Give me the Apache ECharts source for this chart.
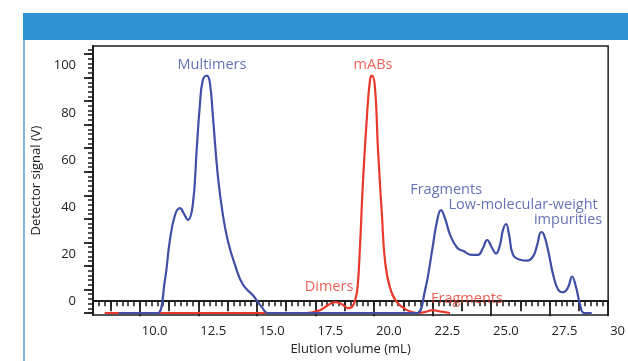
<!DOCTYPE html>
<html>
<head>
<meta charset="utf-8">
<script src="https://cdn.jsdelivr.net/npm/echarts@6/dist/echarts.min.js"></script>
<style>html,body{margin:0;padding:0;background:#fff}#c{width:628px;height:361px}</style>
</head>
<body>
<div id="c"></div>
<script>
// Blue trace (multimers, fragments, low-molecular-weight impurities)
const blueVolume = [9.1,10.5,10.77,11.07,11.28,11.5,11.71,11.92,12.05,12.26,12.43,12.56,12.69,12.86,12.99,13.12,13.33,13.55,13.76,14.06,14.40,14.83,15.21,15.47,18,21.5,21.84,22.18,22.48,22.69,22.86,23.03,23.25,23.55,23.80,24.19,24.44,24.66,24.83,25.04,25.21,25.38,25.51,25.64,25.77,25.94,26.24,26.54,26.79,26.97,27.14,27.26,27.44,27.65,27.86,28.08,28.29,28.46,28.63,28.80,28.97,29.3];
const blueSignal = [-5,-5,-5,8.8,25.6,36.5,39.5,36.5,34.5,40.8,64.7,82.8,94,95.8,92.9,78.6,53.4,36.5,25.6,15.5,7.1,2.5,-2.5,-5,-5,-5,-5,4.6,21.4,34,38.7,35.3,28.2,22.7,21.4,19.7,19.7,22.7,26,22.7,20.2,23.9,30.3,32.8,28.2,19.7,17.6,17.2,18.9,23.9,29.4,28.2,21.4,11.3,5,3.8,5.9,10.5,5.9,-1.3,-5,-5];
// Red trace (dimers, mABs, fragments)
const redVolume = [8.5,16.5,17.14,17.69,18.03,18.33,18.63,18.89,19.06,19.2,19.3,19.4,19.53,19.70,19.83,19.91,20.04,20.17,20.34,20.47,20.68,20.98,21.41,21.84,22.2,22.5,22.8,23.25];
const redSignal = [-5,-5,-5,-3.8,-1.7,-0.4,-1.3,-2.9,-2.4,0.5,6,22.7,50.8,78.6,94,95.8,91.2,64.7,36.5,17.2,5.9,-0.4,-3.8,-5,-4.5,-3.8,-4.3,-5];
// Annotations
const annotationText = ['Multimers','mABs','Dimers','Fragments','Fragments','Low-molecular-weight','impurities'];
const annotationVolume = [13.08,19.96,18.08,23.97,23.08,26.37,28.29];
const annotationSignal = [100.2,100.2,5.9,1.0,47.5,40.8,34.5];
const annotationTrace = ['blue','red','red','red','blue','blue','blue'];
// Axis ticks/labels
const xLabelValues = [10,12.5,15,17.5,20,22.5,25,27.5,30];
const xMediumTicks = [8.75,11.25,13.75,16.25,18.75,21.25,23.75,26.25,28.75];
const xSmallTicks = []; for (let v = 8; v <= 30.001; v += 0.25) xSmallTicks.push(+v.toFixed(2));
const yLabelValues = [0,20,40,60,80,100];
const yMajorTicks = [-5,5,15,25,35,45,55,65,75,85,95,105];
const yMinorTicks = []; for (let v = -5; v <= 107; v += 2) yMinorTicks.push(v);

const BLUE = '#3f4fa6', RED = '#e8392d', INK = '#1e1e1e';
const FONT = 'Open Sans';
const X_MIN = 8, X_MAX = 30, Y_MIN = -5.9, Y_MAX = 108.4;

function xAx(extra) {
  return Object.assign({
    type: 'value', min: X_MIN, max: X_MAX, position: 'bottom', gridIndex: 0,
    splitLine: {show: false},
    axisLine: {show: false},
    axisLabel: {show: false},
    axisTick: {show: false}
  }, extra);
}
function yAx(extra) {
  return Object.assign({
    type: 'value', min: Y_MIN, max: Y_MAX, position: 'left', gridIndex: 0,
    splitLine: {show: false},
    axisLine: {show: false},
    axisLabel: {show: false},
    axisTick: {show: false}
  }, extra);
}

const chart = echarts.init(document.getElementById('c'));
chart.setOption({
  animation: false,
  backgroundColor: '#fff',
  graphic: [
    {type: 'rect', shape: {x: 23, y: 13, width: 605, height: 27}, style: {fill: '#2b91cf'}},
    {type: 'rect', shape: {x: 23, y: 40, width: 2, height: 321}, style: {fill: '#7dbbe6'}}
  ],
  grid: {left: 93, top: 46, right: 19, bottom: 43, show: true, borderColor: INK, borderWidth: 1.5},
  xAxis: [
    xAx({
      name: 'Elution volume (mL)', nameLocation: 'middle', nameGap: 27,
      nameTextStyle: {fontFamily: FONT, fontSize: 13, color: '#222'},
      axisLine: {show: true, lineStyle: {color: INK, width: 2}},
      axisTick: {show: true, inside: false, length: 15, customValues: xLabelValues, lineStyle: {color: INK, width: 1.8}},
      axisLabel: {show: true, customValues: xLabelValues, align: 'left', margin: 10, padding: [0,0,0,2],
        fontFamily: FONT, fontSize: 13, color: '#222', formatter: v => (v % 1 === 0 && v !== 30) ? v.toFixed(1) : String(v)}
    }),
    xAx({axisTick: {show: true, length: 10, customValues: xMediumTicks, lineStyle: {color: INK, width: 1.8}}}),
    xAx({axisTick: {show: true, length: 5, customValues: xSmallTicks, lineStyle: {color: INK, width: 1.5}}})
  ],
  yAxis: [
    yAx({
      name: 'Detector signal (V)', nameLocation: 'middle', nameGap: 41,
      nameTextStyle: {fontFamily: FONT, fontSize: 13, color: '#222'},
      axisLine: {show: true, lineStyle: {color: INK, width: 2}},
      axisLabel: {show: true, customValues: yLabelValues, margin: 17, fontFamily: FONT, fontSize: 13, color: '#222'}
    }),
    yAx({axisTick: {show: true, length: 9, customValues: yMajorTicks, lineStyle: {color: INK, width: 1.8}}}),
    yAx({axisTick: {show: true, length: 5, customValues: yMinorTicks, lineStyle: {color: INK, width: 1.5}}})
  ],
  series: [
    {
      type: 'line', name: 'red', data: redVolume.map((v, i) => [v, redSignal[i]]),
      showSymbol: false, smooth: 0.45,
      lineStyle: {color: RED, width: 2.2}, z: 2
    },
    {
      type: 'line', name: 'blue', data: blueVolume.map((v, i) => [v, blueSignal[i]]),
      showSymbol: false, smooth: 0.45,
      lineStyle: {color: BLUE, width: 2.2}, z: 3
    },
    {
      type: 'scatter', symbolSize: 0, z: 5,
      data: annotationText.map((t, i) => ({
        value: [annotationVolume[i], annotationSignal[i]], name: t,
        label: {color: annotationTrace[i] === 'blue' ? BLUE : RED}
      })),
      label: {show: true, position: 'inside', formatter: p => p.name, fontFamily: FONT, fontSize: 14.5, align: 'center', verticalAlign: 'middle'},
      emphasis: {disabled: true}
    }
  ]
});
</script>
</body>
</html>
